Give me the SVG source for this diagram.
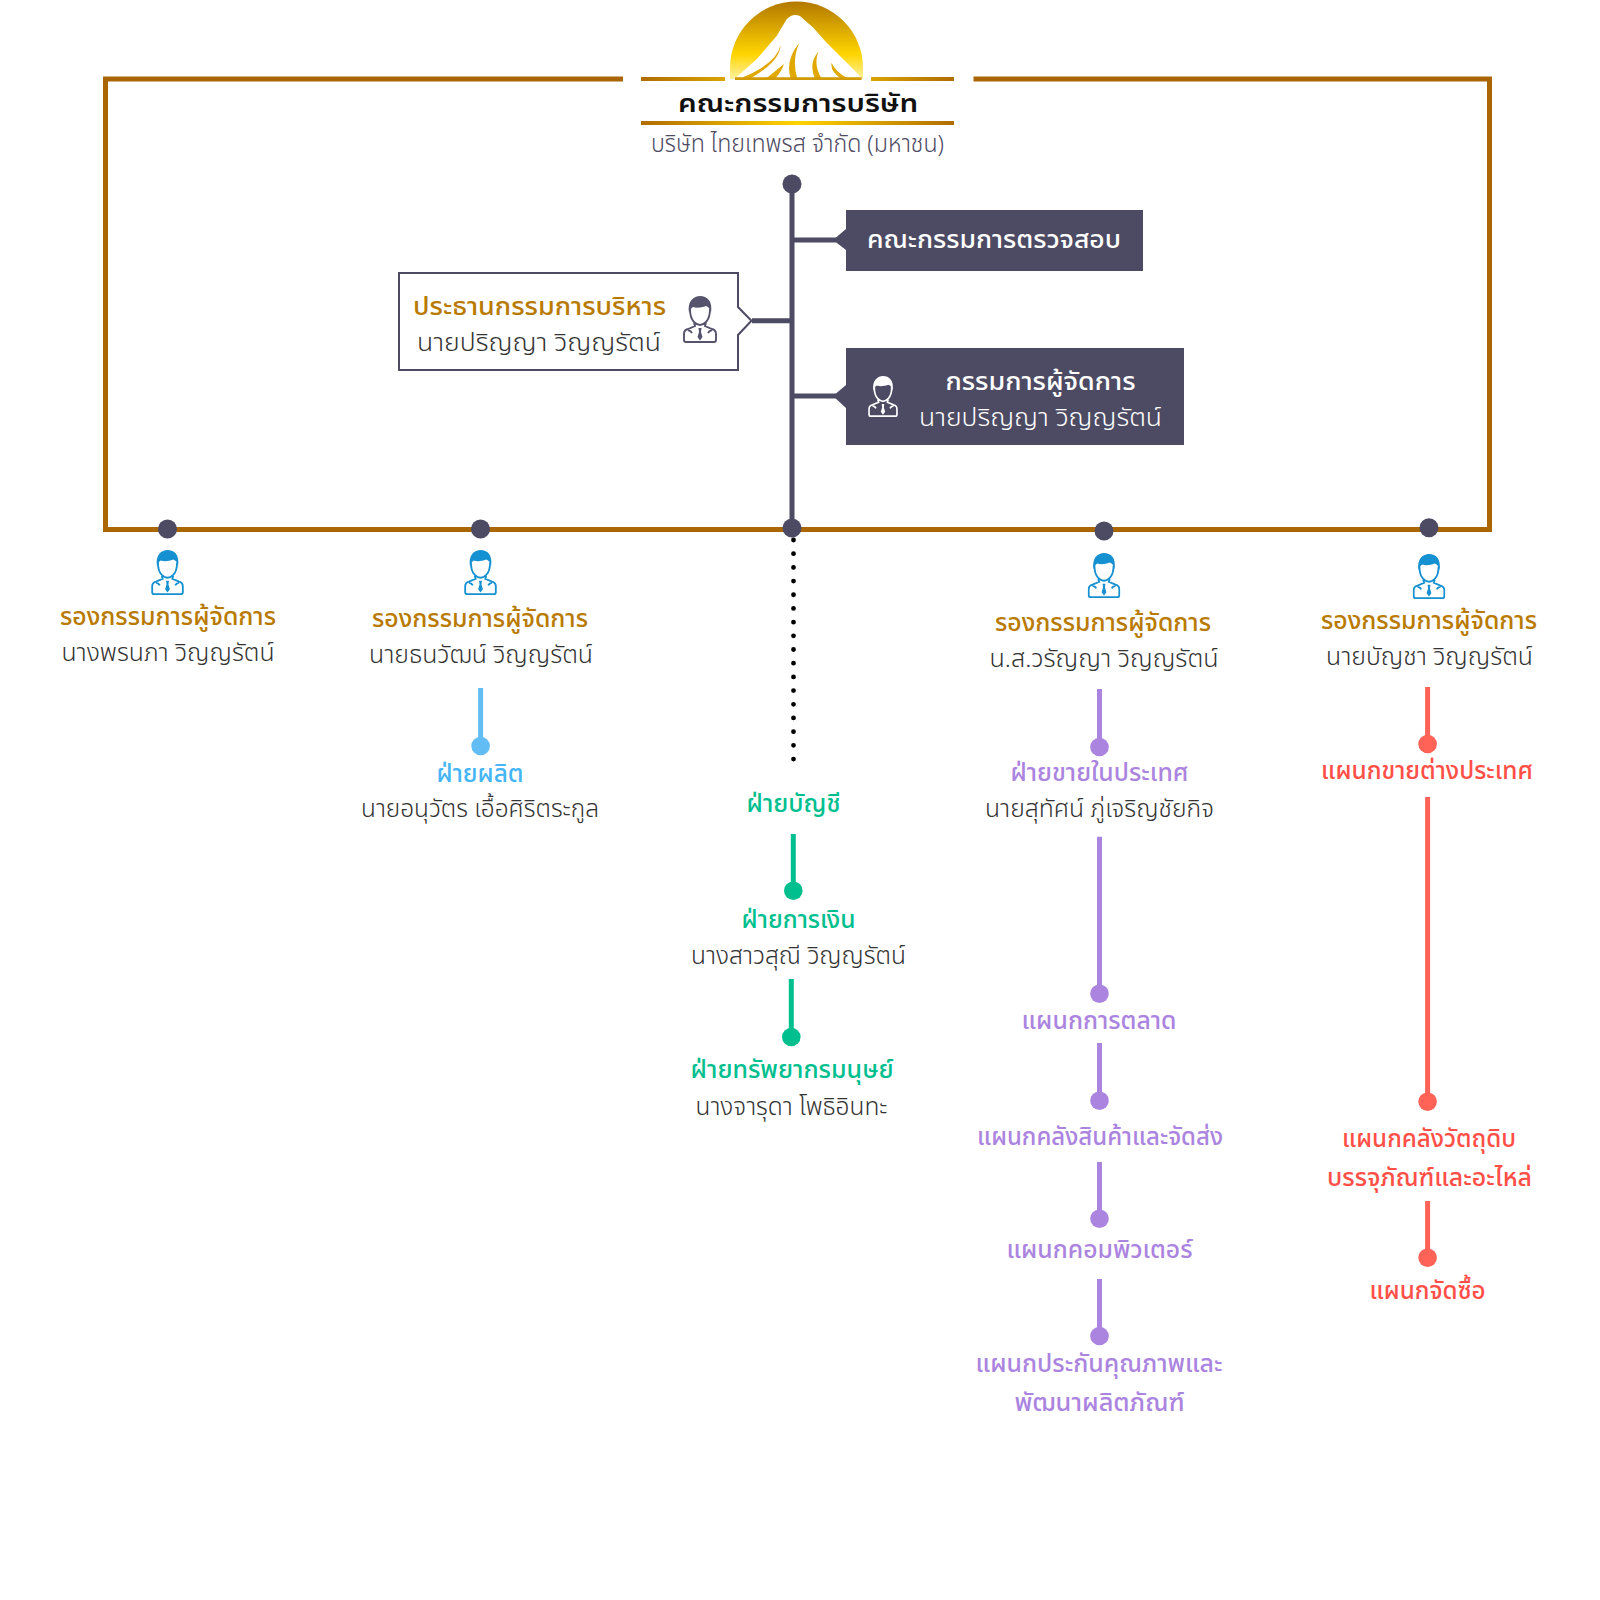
<svg xmlns="http://www.w3.org/2000/svg" width="1600" height="1600" viewBox="0 0 1600 1600">
<style>
text{font-family:"Noto Sans Thai","Noto Sans",sans-serif;text-anchor:middle;font-size:24px}
.t{font-weight:500}
.n{font-weight:300;fill:#333}
.g{fill:#b87a00}
.w{fill:#fff}
.bl{fill:#45b5f5}.gr{fill:#00bf8f}.pu{fill:#ab84e0}.re{fill:#ff4f47}
.dk{fill:#4d4a63}
.frame{fill:none;stroke:#ab6604;stroke-width:5}
.c{stroke-width:5;fill:none}
.cd{stroke:#4d4a63}.cb{stroke:#62bdf4}.cg{stroke:#00bf8f}.cp{stroke:#ab84e0}.cr{stroke:#ff6358}
.fb{fill:#62bdf4}.fg{fill:#00bf8f}.fp{fill:#ab84e0}.fr{fill:#ff6358}
.blue{color:#1590d0}.grey{color:#56536d}.white{color:#fff}
</style>
<defs>
<linearGradient id="sun" x1="0" y1="0" x2="0" y2="1"><stop offset="0" stop-color="#b27800"/><stop offset=".68" stop-color="#ffd500"/><stop offset="1" stop-color="#fff2a0"/></linearGradient>
<linearGradient id="rule" gradientUnits="userSpaceOnUse" x1="641" y1="0" x2="954" y2="0"><stop offset="0" stop-color="#b06c00"/><stop offset=".5" stop-color="#ffd400"/><stop offset="1" stop-color="#b06c00"/></linearGradient>
<symbol id="person" viewBox="0 0 34 47">
<path d="M6 17C4 5 11 0 17 0C24 0 30 5 28 17C27 13 26 11 23 10C18 12 13 12 10 11C8 12 7 14 6 17Z" fill="currentColor"/>
<path d="M7 13C7 20 8 23 11 26C13 28 15 29 17 29C19 29 21 28 23 26C26 23 27 20 27 13M11 27L12 30L5 33Q1 34 1 38V44Q1 46 3 46H31Q33 46 33 44V38Q33 34 29 33L22 30L23 27M5 34Q8 35 9 37M29 34Q26 35 25 37" fill="none" stroke="currentColor" stroke-width="1.900"/>
<path d="M15.500 32h3l-.5 4 1.500 5-2.500 3.500-2.500-3.500 1.500-5z" fill="currentColor"/>
</symbol>
</defs>
<g id="connectors">
<path class="frame" d="M623 79H105.500V529.500H1489.500V79H973.500"/>
<path class="c cd" d="M792 184V528M792 320.700H752M792 240H836M792 396H836"/>
<circle class="dk" cx="792" cy="184" r="9.500"/><circle class="dk" cx="167.500" cy="529" r="9.500"/><circle class="dk" cx="480.500" cy="529" r="9.500"/><circle class="dk" cx="792" cy="528" r="9.500"/><circle class="dk" cx="1104" cy="531" r="9.500"/><circle class="dk" cx="1429" cy="527.700" r="9.500"/>
<path d="M793.500 540V760" stroke="#000" stroke-width="4.800" stroke-linecap="round" stroke-dasharray="0 13.690"/>
<path class="c cb" d="M480.600 688V746"/><circle class="fb" cx="480.600" cy="746" r="9.300"/>
<path class="c cg" d="M793.300 834V890M791.300 979V1037"/><circle class="fg" cx="793.300" cy="890.700" r="9.300"/><circle class="fg" cx="791.300" cy="1037" r="9.300"/>
<path class="c cp" d="M1099.500 689V747M1099.500 836.700V993M1099.500 1043V1100M1099.500 1162V1218M1099.500 1279V1336"/>
<circle class="fp" cx="1099.500" cy="747" r="9.300"/><circle class="fp" cx="1099.500" cy="993.700" r="9.300"/><circle class="fp" cx="1099.500" cy="1100.700" r="9.300"/><circle class="fp" cx="1099.500" cy="1218.700" r="9.300"/><circle class="fp" cx="1099.500" cy="1336" r="9.300"/>
<path class="c cr" d="M1427.600 687V744M1427.600 797V1101M1427.600 1201V1257"/>
<circle class="fr" cx="1427.600" cy="744" r="9.300"/><circle class="fr" cx="1427.600" cy="1101.700" r="9.300"/><circle class="fr" cx="1427.600" cy="1257.700" r="9.300"/>
</g>
<g id="board">
<path d="M730 79V68A66.500 66.500 0 0 1 863 68V79Z" fill="url(#sun)"/>
<g transform="translate(600 0) scale(.3333)">
<path d="M400 240L470 178L530 108L560 58Q578 38 600 48L640 83L680 128L720 168L760 208L790 240Z" fill="#fff"/>
<path d="M428 232Q530 190 542 135Q540 185 450 236ZM500 234Q530 210 552 192Q545 215 525 236ZM572 236Q555 180 598 128Q575 180 592 236ZM645 236Q625 190 655 155Q640 195 665 236ZM725 236Q690 215 695 188Q705 215 745 236Z" fill="#e0a800"/>
<path d="M405 236H785" stroke="#d09a00" stroke-width="8"/>
</g>
<rect x="641" y="77" width="84" height="4" fill="url(#rule)"/><rect x="871" y="77" width="83" height="4" fill="url(#rule)"/>
<text x="798" y="112" font-size="30" font-weight="600" fill="#111" textLength="240" lengthAdjust="spacingAndGlyphs">คณะกรรมการบริษัท</text>
<rect x="641" y="121" width="313" height="4" fill="url(#rule)"/>
<text class="dk" x="797.500" y="152" font-weight="300" textLength="293" lengthAdjust="spacingAndGlyphs">บริษัท ไทยเทพรส จำกัด (มหาชน)</text>
</g>
<g id="exec">
<path d="M399 273H738V307L751.500 320.700L738 335V370H399Z" fill="#fff" stroke="#4d4a63" stroke-width="2"/>
<text class="t g" x="539.500" y="315" textLength="253" lengthAdjust="spacingAndGlyphs">ประธานกรรมการบริหาร</text>
<text class="n" x="539" y="351" textLength="244" lengthAdjust="spacingAndGlyphs">นายปริญญา วิญญรัตน์</text>
<use class="grey" href="#person" x="683" y="296" width="34" height="47"/>
</g>
<g id="audit">
<path class="dk" d="M846 210H1143V271H846V250L833 240L846 229Z"/>
<text class="t w" x="994" y="248" textLength="254" lengthAdjust="spacingAndGlyphs">คณะกรรมการตรวจสอบ</text>
</g>
<g id="md">
<path class="dk" d="M846 348H1184V445H846V408L833 396L846 385Z"/>
<text class="t w" x="1040.500" y="390" textLength="190" lengthAdjust="spacingAndGlyphs">กรรมการผู้จัดการ</text>
<text class="n" style="fill:#fff" x="1040.500" y="426" textLength="243" lengthAdjust="spacingAndGlyphs">นายปริญญา วิญญรัตน์</text>
<use class="white" href="#person" x="868" y="376" width="30" height="41"/>
</g>
<g id="vp1">
<use class="blue" href="#person" x="151" y="550" width="33" height="45"/>
<text class="t g" x="168" y="625" textLength="216" lengthAdjust="spacingAndGlyphs">รองกรรมการผู้จัดการ</text>
<text class="n" x="168" y="661" textLength="213" lengthAdjust="spacingAndGlyphs">นางพรนภา วิญญรัตน์</text>
</g>
<g id="vp2">
<use class="blue" href="#person" x="464" y="550" width="33" height="45"/>
<text class="t g" x="480" y="627" textLength="216" lengthAdjust="spacingAndGlyphs">รองกรรมการผู้จัดการ</text>
<text class="n" x="481" y="663" textLength="224" lengthAdjust="spacingAndGlyphs">นายธนวัฒน์ วิญญรัตน์</text>
</g>
<g id="production">
<text class="t bl" x="480" y="782" textLength="87" lengthAdjust="spacingAndGlyphs">ฝ่ายผลิต</text>
<text class="n" x="480" y="817" textLength="238" lengthAdjust="spacingAndGlyphs">นายอนุวัตร เอื้อศิริตระกูล</text>
</g>
<g id="accounting"><text class="t gr" x="793.500" y="812" textLength="94" lengthAdjust="spacingAndGlyphs">ฝ่ายบัญชี</text></g>
<g id="finance">
<text class="t gr" x="798.500" y="928" textLength="114" lengthAdjust="spacingAndGlyphs">ฝ่ายการเงิน</text>
<text class="n" x="798.500" y="964" textLength="215" lengthAdjust="spacingAndGlyphs">นางสาวสุณี วิญญรัตน์</text>
</g>
<g id="hr">
<text class="t gr" x="792" y="1078" textLength="203" lengthAdjust="spacingAndGlyphs">ฝ่ายทรัพยากรมนุษย์</text>
<text class="n" x="791.500" y="1115" textLength="192" lengthAdjust="spacingAndGlyphs">นางจารุดา โพธิอินทะ</text>
</g>
<g id="vp4">
<use class="blue" href="#person" x="1087.500" y="553" width="33" height="45"/>
<text class="t g" x="1103" y="631" textLength="216" lengthAdjust="spacingAndGlyphs">รองกรรมการผู้จัดการ</text>
<text class="n" x="1104" y="667" textLength="229" lengthAdjust="spacingAndGlyphs">น.ส.วรัญญา วิญญรัตน์</text>
</g>
<g id="domestic">
<text class="t pu" x="1099.500" y="781" textLength="178" lengthAdjust="spacingAndGlyphs">ฝ่ายขายในประเทศ</text>
<text class="n" x="1099.500" y="817" textLength="229" lengthAdjust="spacingAndGlyphs">นายสุทัศน์ ภู่เจริญชัยกิจ</text>
</g>
<g id="marketing"><text class="t pu" x="1099" y="1029" textLength="155" lengthAdjust="spacingAndGlyphs">แผนกการตลาด</text></g>
<g id="warehouse"><text class="t pu" x="1100" y="1145" textLength="246" lengthAdjust="spacingAndGlyphs">แผนกคลังสินค้าและจัดส่ง</text></g>
<g id="computer"><text class="t pu" x="1099.500" y="1258" textLength="186" lengthAdjust="spacingAndGlyphs">แผนกคอมพิวเตอร์</text></g>
<g id="qa">
<text class="t pu" x="1099" y="1372" textLength="247" lengthAdjust="spacingAndGlyphs">แผนกประกันคุณภาพและ</text>
<text class="t pu" x="1099.500" y="1411" textLength="170" lengthAdjust="spacingAndGlyphs">พัฒนาผลิตภัณฑ์</text>
</g>
<g id="vp5">
<use class="blue" href="#person" x="1412.500" y="554" width="33" height="45"/>
<text class="t g" x="1429" y="629" textLength="216" lengthAdjust="spacingAndGlyphs">รองกรรมการผู้จัดการ</text>
<text class="n" x="1429.500" y="665" textLength="207" lengthAdjust="spacingAndGlyphs">นายบัญชา วิญญรัตน์</text>
</g>
<g id="export"><text class="t re" x="1427" y="779" textLength="212" lengthAdjust="spacingAndGlyphs">แผนกขายต่างประเทศ</text></g>
<g id="rawmat">
<text class="t re" x="1429" y="1147" textLength="174" lengthAdjust="spacingAndGlyphs">แผนกคลังวัตถุดิบ</text>
<text class="t re" x="1429.500" y="1186" textLength="205" lengthAdjust="spacingAndGlyphs">บรรจุภัณฑ์และอะไหล่</text>
</g>
<g id="purchasing"><text class="t re" x="1427.500" y="1299" textLength="116" lengthAdjust="spacingAndGlyphs">แผนกจัดซื้อ</text></g>
</svg>
